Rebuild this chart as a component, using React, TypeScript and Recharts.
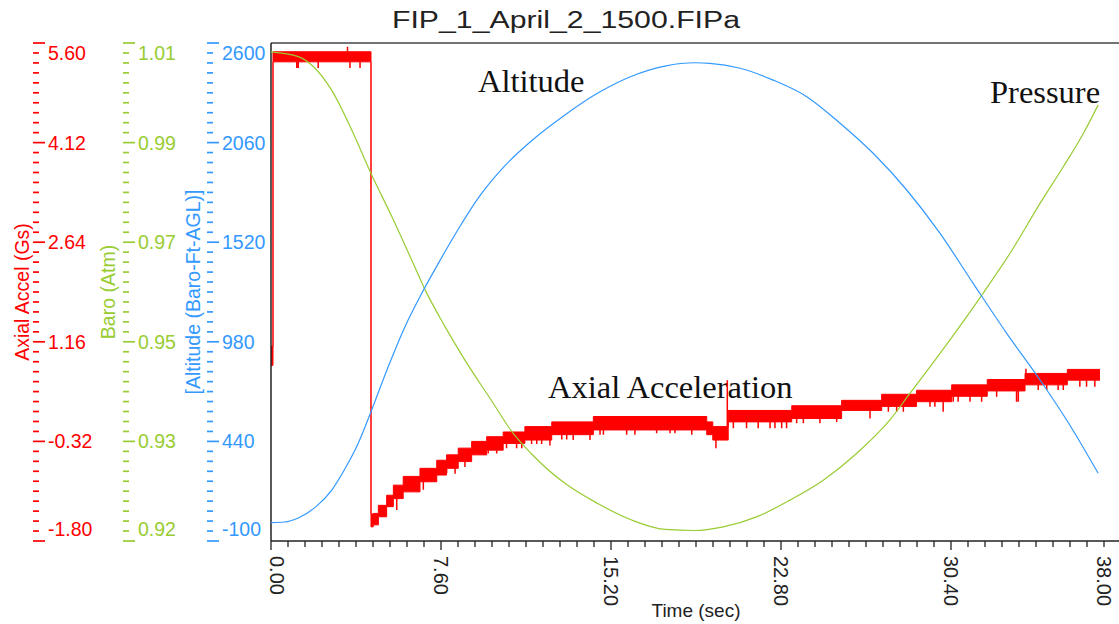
import React from "react";
import {
  Area,
  ComposedChart,
  Line,
  ReferenceLine,
  XAxis,
  YAxis,
} from "recharts";

const RED = "#ff0000";
const GREEN = "#99cc33";
const BLUE = "#3399ff";
const INK = "#222222";
const SANS = "'Liberation Sans', Arial, sans-serif";
const SERIF = "'Liberation Serif', 'Times New Roman', serif";

// Left axes stack outward by id: y1 nearest the plot, y3 outermost
const ALT_AXIS = "y1";
const BARO_AXIS = "y2";
const ACCEL_AXIS = "y3";

// Time axis (sec)
const TIME_MIN = 0;
const TIME_MAX = 38;
const TIME_TICK_LABELS = ["0.00", "7.60", "15.20", "22.80", "30.40", "38.00"];

// Axial accel axis (Gs), labels bottom to top
const ACCEL_MIN = -1.8;
const ACCEL_MAX = 5.6;
const ACCEL_TICK_LABELS = ["-1.80", "-0.32", "1.16", "2.64", "4.12", "5.60"];

// Baro axis (Atm), labels bottom to top
const BARO_MIN = 0.9155;
const BARO_MAX = 1.0105;
const BARO_TICK_LABELS = ["0.92", "0.93", "0.95", "0.97", "0.99", "1.01"];

// Altitude axis (Baro-Ft-AGL), labels bottom to top
const ALT_MIN = -100;
const ALT_MAX = 2600;
const ALT_TICK_LABELS = ["-100", "440", "980", "1520", "2060", "2600"];

// Altitude samples
const ALT_TIME = [
  0, 0.6, 1.22, 2.0, 2.71, 3.3, 3.9, 4.47, 5.24, 5.99, 6.74, 7.48, 8.37, 9.27,
  10.46, 11.65, 13.14, 14.63, 16.12, 17.61, 18.95, 19.62, 20.97, 22.45, 23.95,
  25.44, 26.92, 28.42, 29.91, 31.39, 32.89, 34.38, 35.57, 36.98,
];
const ALT_FT = [
  0, 3, 25, 85, 175, 290, 430, 601, 845, 1062, 1243, 1405, 1590, 1760, 1935,
  2070, 2210, 2330, 2420, 2475, 2493, 2490, 2463, 2399, 2309, 2165, 2002, 1803,
  1568, 1297, 1026, 773, 556, 267,
];

// Barometric pressure samples
const BARO_TIME = [
  0, 1.22, 2.71, 3.61, 4.47, 5.4, 6.29, 6.88, 7.78, 8.67, 9.87, 10.76, 11.65,
  13.14, 14.63, 16.12, 17.61, 18.95, 20.22, 21.71, 23.2, 24.69, 26.18, 27.67,
  28.57, 29.91, 31.84, 33.04, 34.38, 35.42, 36.31, 36.98,
];
const BARO_ATM = [
  1.0088, 1.0079, 1.0015, 0.9939, 0.9856, 0.9774, 0.9691, 0.9635, 0.9564, 0.95,
  0.9422, 0.9364, 0.9321, 0.9265, 0.9226, 0.9195, 0.9177, 0.9175, 0.9182,
  0.9201, 0.9233, 0.9271, 0.9322, 0.9386, 0.9437, 0.9513, 0.9628, 0.9704,
  0.9799, 0.9869, 0.9932, 0.9987,
];

// Accelerometer noise band, one step per sensor level: start time, low, high
const ACCEL_STEP_TIME = [
  0, 0.09, 4.47, 4.57, 4.8, 5.17, 5.47, 5.91, 6.66, 7.41, 7.85, 8.37, 8.97, 9.64,
  10.38, 11.35, 12.55, 14.41, 19.48, 19.75, 20.44, 23.28, 25.51, 27.3, 28.86,
  30.43, 32.02, 33.71, 35.6, 37.06,
];
const ACCEL_STEP_LOW = [
  0.81, 5.32, -1.59, -1.56, -1.44, -1.29, -1.17, -1.07, -0.92, -0.82, -0.72,
  -0.62, -0.52, -0.45, -0.35, -0.3, -0.22, -0.15, -0.22, -0.3, -0.03, 0.02,
  0.14, 0.2, 0.27, 0.35, 0.43, 0.52, 0.59, 0.59,
];
const ACCEL_STEP_HIGH = [
  1.09, 5.47, -1.4, -1.39, -1.27, -1.12, -0.97, -0.84, -0.72, -0.6, -0.52, -0.42,
  -0.32, -0.25, -0.18, -0.1, -0.03, 0.05, -0.03, -0.1, 0.14, 0.21, 0.29, 0.38,
  0.44, 0.52, 0.6, 0.69, 0.75, 0.75,
];

// Single-sample glitches off the band: time, value reached
const SPIKE_TIME = [
  1.15, 1.22, 2.11, 3.42, 3.53, 3.98, 5.62, 6.81, 7.85, 8.23, 8.67, 9.71, 10.09,
  10.53, 10.98, 11.21, 11.65, 11.88, 12.1, 12.47, 13.0, 13.22, 13.51, 14.26,
  14.71, 14.86, 15.9, 16.27, 17.24, 17.84, 18.06, 18.81, 19.89, 20.4, 20.67,
  21.26, 21.78, 22.31, 22.53, 22.83, 23.05, 23.5, 23.8, 24.54, 25.29, 26.78,
  27.6, 27.97, 28.27, 29.46, 29.68, 30.05, 30.5, 30.72, 31.25, 31.77, 32.44,
  33.33, 33.41, 33.75, 34.3, 34.68, 35.19, 35.42, 36.16, 36.46, 36.83,
];
const SPIKE_VALUE = [
  5.23, 5.23, 5.23, 5.545, 5.23, 5.23, -1.34, -1.04, -0.79, -0.8, -0.7, -0.5,
  -0.5, -0.42, -0.42, -0.42, -0.36, -0.36, -0.36, -0.38, -0.29, -0.29, -0.3,
  -0.3, -0.22, -0.22, -0.22, -0.22, -0.2, -0.2, -0.2, -0.22, -0.42, 0.59,
  -0.125, -0.125, -0.125, -0.125, -0.125, -0.125, -0.125, -0.05, -0.05, -0.05,
  -0.03, 0.02, 0.12, 0.12, 0.12, 0.196, 0.196, 0.12, 0.27, 0.27, 0.27, 0.27,
  0.345, 0.27, 0.27, 0.76, 0.444, 0.444, 0.444, 0.444, 0.493, 0.493, 0.493,
];

const altData = ALT_TIME.map((t, i) => ({ t, alt: ALT_FT[i] }));
const baroData = BARO_TIME.map((t, i) => ({ t, baro: BARO_ATM[i] }));
const accelData = ACCEL_STEP_TIME.map((t, i) => ({
  t,
  band: [ACCEL_STEP_LOW[i], ACCEL_STEP_HIGH[i]],
}));

// index of the band step in effect at time t
const stepAt = (t: number) => {
  let k = 0;
  while (k + 1 < ACCEL_STEP_TIME.length && ACCEL_STEP_TIME[k + 1] <= t) k++;
  return k;
};

// each glitch is a vertical stroke from the nearest band edge to its value,
// with a null row after it so the line breaks between glitches
const spikeData = SPIKE_TIME.flatMap((t, i) => {
  const k = stepAt(t);
  const v = SPIKE_VALUE[i];
  const edge = v < ACCEL_STEP_LOW[k] ? ACCEL_STEP_LOW[k] : ACCEL_STEP_HIGH[k];
  return [
    { t, g: edge },
    { t, g: v },
    { t, g: null },
  ];
});

// 5 labelled intervals, 10 minor ticks each
const axisTicks = (min: number, max: number) =>
  Array.from({ length: 51 }, (_, i) =>
    i === 50 ? max : min + ((max - min) * i) / 50
  );

const makeYTick =
  (width: number, color: string, labels: string[]) => (props: any) => {
    const { x, y, index } = props;
    const base = x - width;
    const major = index % 10 === 0;
    const k = index / 10;
    const dy = k === 0 ? -12 : k === 5 ? 10 : 0;
    return (
      <g>
        <line
          x1={base}
          x2={base + (major ? 12 : 6)}
          y1={y}
          y2={y}
          stroke={color}
          strokeWidth={1.7}
        />
        {major && (
          <text
            x={base + 15}
            y={y + dy}
            fill={color}
            fontSize={19.5}
            fontFamily={SANS}
            dominantBaseline="central"
          >
            {labels[k]}
          </text>
        )}
      </g>
    );
  };

const TimeTick = (props: any) => {
  const { x, y, index } = props;
  const major = index % 10 === 0;
  const k = index / 10;
  const shift = k === 0 ? 6 : k === 5 ? -17 : 0;
  return (
    <g>
      <line
        x1={x}
        x2={x}
        y1={y}
        y2={y + (major ? 9 : 6)}
        stroke={INK}
        strokeWidth={1.3}
      />
      {major && (
        <text
          transform={`translate(${x + shift}, ${y + 15}) rotate(90)`}
          fill={INK}
          fontSize={20}
          fontFamily={SANS}
          dominantBaseline="central"
        >
          {TIME_TICK_LABELS[k]}
        </text>
      )}
    </g>
  );
};

const axisTitle = (x: number, text: string, color: string) => (
  <text
    x={x}
    y={292}
    transform={`rotate(-90, ${x}, 292)`}
    textAnchor="middle"
    fill={color}
    fontSize={19.5}
    fontFamily={SANS}
  >
    {text}
  </text>
);

const callout = (x: number, y: number, text: string) => (
  <text x={x} y={y} fill="#111" fontSize={32.5} fontFamily={SERIF}>
    {text}
  </text>
);

export default function App() {
  return (
    <div
      style={{
        position: "absolute",
        left: 0,
        top: 0,
        width: 1119,
        height: 624,
        overflow: "hidden",
        background: "#fff",
      }}
    >
      <ComposedChart
        width={1122}
        height={624}
        margin={{ top: 43, right: 1, bottom: 0, left: 33 }}
      >
        <XAxis
          type="number"
          dataKey="t"
          domain={[TIME_MIN, TIME_MAX]}
          ticks={axisTicks(TIME_MIN, TIME_MAX)}
          interval={0}
          allowDataOverflow
          height={83}
          tickSize={0}
          tickMargin={0}
          tickLine={false}
          axisLine={{ stroke: INK, strokeWidth: 1.5 }}
          tick={TimeTick}
          label={{
            value: "Time (sec)",
            position: "insideBottom",
            offset: 7,
            fill: INK,
            fontSize: 19,
            fontFamily: SANS,
          }}
        />
        <YAxis
          yAxisId={ALT_AXIS}
          type="number"
          domain={[ALT_MIN, ALT_MAX]}
          ticks={axisTicks(ALT_MIN, ALT_MAX)}
          interval={0}
          allowDataOverflow
          width={64}
          tickSize={0}
          tickMargin={0}
          tickLine={false}
          axisLine={false}
          tick={makeYTick(64, BLUE, ALT_TICK_LABELS)}
        />
        <YAxis
          yAxisId={BARO_AXIS}
          type="number"
          domain={[BARO_MIN, BARO_MAX]}
          ticks={axisTicks(BARO_MIN, BARO_MAX)}
          interval={0}
          allowDataOverflow
          width={84}
          tickSize={0}
          tickMargin={0}
          tickLine={false}
          axisLine={false}
          tick={makeYTick(84, GREEN, BARO_TICK_LABELS)}
        />
        <YAxis
          yAxisId={ACCEL_AXIS}
          type="number"
          domain={[ACCEL_MIN, ACCEL_MAX]}
          ticks={axisTicks(ACCEL_MIN, ACCEL_MAX)}
          interval={0}
          allowDataOverflow
          width={90}
          tickSize={0}
          tickMargin={0}
          tickLine={false}
          axisLine={false}
          tick={makeYTick(90, RED, ACCEL_TICK_LABELS)}
        />

        <ReferenceLine yAxisId={ALT_AXIS} y={ALT_MAX} stroke="#444" strokeWidth={1.5} />
        <ReferenceLine yAxisId={ALT_AXIS} x={TIME_MIN} stroke={INK} strokeWidth={1.5} />

        <Area
          yAxisId={ACCEL_AXIS}
          data={accelData}
          dataKey="band"
          type="stepAfter"
          stroke={RED}
          strokeWidth={1}
          fill={RED}
          fillOpacity={1}
          isAnimationActive={false}
        />
        <Line
          yAxisId={ACCEL_AXIS}
          data={spikeData}
          dataKey="g"
          type="linear"
          stroke={RED}
          strokeWidth={1.5}
          dot={false}
          connectNulls={false}
          isAnimationActive={false}
        />
        <Line
          yAxisId={BARO_AXIS}
          data={baroData}
          dataKey="baro"
          type="monotone"
          stroke={GREEN}
          strokeWidth={1.2}
          dot={false}
          isAnimationActive={false}
        />
        <Line
          yAxisId={ALT_AXIS}
          data={altData}
          dataKey="alt"
          type="monotone"
          stroke={BLUE}
          strokeWidth={1.2}
          dot={false}
          isAnimationActive={false}
        />

        <text
          x={392}
          y={28}
          fill={INK}
          fontSize={23}
          fontFamily={SANS}
          textLength={348}
          lengthAdjust="spacingAndGlyphs"
        >
          FIP_1_April_2_1500.FIPa
        </text>
        {axisTitle(28.5, "Axial Accel (Gs)", RED)}
        {axisTitle(115, "Baro (Atm)", GREEN)}
        {axisTitle(199.5, "[Altitude (Baro-Ft-AGL)]", BLUE)}
        {callout(478, 91.5, "Altitude")}
        {callout(990, 103, "Pressure")}
        {callout(548, 398, "Axial Acceleration")}
      </ComposedChart>
    </div>
  );
}
